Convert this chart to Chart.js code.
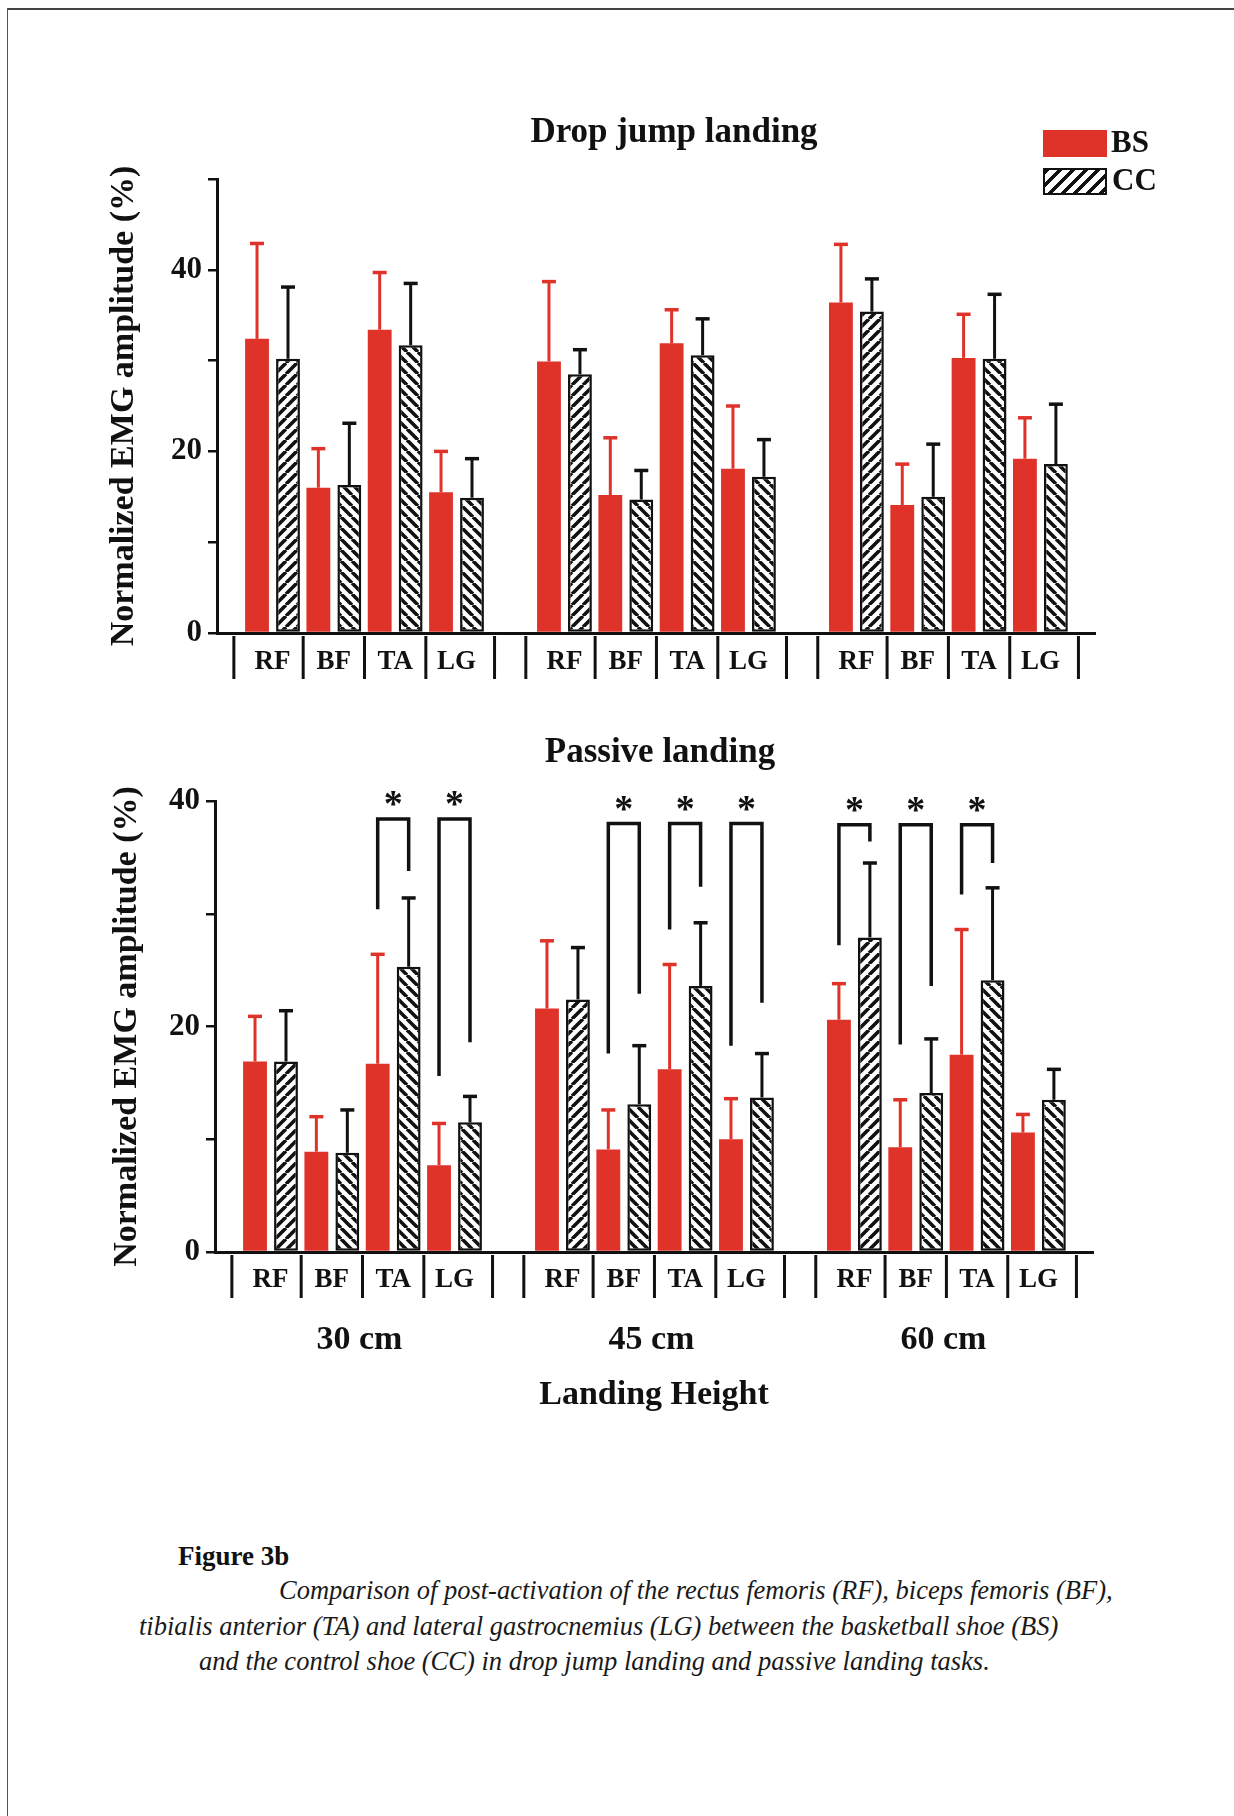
<!DOCTYPE html>
<html lang="en">
<head>
<meta charset="UTF-8">
<title>Figure 3b</title>
<script src="https://cdn.jsdelivr.net/npm/chart.js"></script>
<style>
  body { margin: 0; background: #fff; }
  #page { position: relative; width: 1234px; height: 1816px; overflow: hidden; font-family: "Liberation Serif", "Times New Roman", serif; color: #111; }
  #frame { position: absolute; left: 7px; top: 8px; right: -4px; bottom: -4px; border-top: 2px solid #444; border-left: 1.5px solid #555; }
  canvas { position: absolute; left: 0; }
  .txt { position: absolute; line-height: 1; white-space: nowrap; }
  .bold { font-weight: bold; }
  .mid { transform: translateX(-50%); }
  .sw { position: absolute; width: 64px; height: 27px; box-sizing: border-box; }
  .sw.bs { background: #DF3229; }
  .sw.cc { border: 2.5px solid #111; background: repeating-linear-gradient(135deg, #111 0 3.5px, #fff 3.5px 9px); }
  .cap { font-style: italic; font-size: 26.5px; color: #1a1a1a; }
</style>
</head>
<body>
<div id="page">
  <div id="frame"></div>
  <canvas id="dropChart" width="1234" height="700" style="top:0"></canvas>
  <canvas id="passiveChart" width="1234" height="740" style="top:700px"></canvas>

  <div class="txt bold mid" style="left:674px; top:113px; font-size:35px">Drop jump landing</div>
  <div class="txt bold mid" style="left:660px; top:733px; font-size:35px">Passive landing</div>

  <div class="sw bs" style="left:1043px; top:130px"></div>
  <div class="txt bold" style="left:1111px; top:126px; font-size:31px">BS</div>
  <div class="sw cc" style="left:1043px; top:168px"></div>
  <div class="txt bold" style="left:1112px; top:164px; font-size:31px">CC</div>

  <div class="txt bold" style="left:178px; top:1543px; font-size:27px">Figure 3b</div>
  <div class="txt cap" style="left:279px; top:1577px">Comparison of post-activation of the rectus femoris (RF), biceps femoris (BF),</div>
  <div class="txt cap" style="left:139px; top:1613px">tibialis anterior (TA) and lateral gastrocnemius (LG) between the basketball shoe (BS)</div>
  <div class="txt cap" style="left:199px; top:1648px">and the control shoe (CC) in drop jump landing and passive landing tasks.</div>
</div>

<script>
// categories
const muscles = ['RF', 'BF', 'TA', 'LG'];
const heights = ['30 cm', '45 cm', '60 cm'];
const yLabelsDrop = [0, 20, 40];
const yLabelsPassive = [0, 20, 40];

// drop jump landing: means and SD (order 30cm RF..LG, 45cm RF..LG, 60cm RF..LG)
const dropBS = [32.4, 16.0, 33.4, 15.5, 29.9, 15.2, 31.9, 18.1, 36.4, 14.1, 30.3, 19.2];
const dropBSErr = [10.5, 4.3, 6.3, 4.5, 8.8, 6.3, 3.7, 6.9, 6.4, 4.5, 4.8, 4.5];
const dropCC = [30.2, 16.3, 31.7, 14.9, 28.5, 14.7, 30.6, 17.2, 35.4, 15.0, 30.2, 18.6];
const dropCCErr = [7.9, 6.8, 6.8, 4.3, 2.7, 3.2, 4.0, 4.1, 3.6, 5.8, 7.1, 6.6];

// passive landing
const passBS = [16.9, 8.9, 16.7, 7.7, 21.6, 9.1, 16.2, 10.0, 20.6, 9.3, 17.5, 10.6];
const passBSErr = [4.0, 3.1, 9.7, 3.7, 6.0, 3.5, 9.3, 3.6, 3.2, 4.2, 11.1, 1.6];
const passCC = [16.9, 8.8, 25.3, 11.5, 22.4, 13.1, 23.6, 13.7, 27.9, 14.1, 24.1, 13.5];
const passCCErr = [4.5, 3.8, 6.1, 2.3, 4.6, 5.2, 5.6, 3.9, 6.6, 4.8, 8.2, 2.7];

// significance brackets: [bar index, BS leg bottom, bracket top, CC leg bottom]
const passSig = [
  [2, 30.4, 38.4, 33.8], [3, 15.6, 38.4, 18.6],
  [5, 17.6, 38.0, 22.9], [6, 28.6, 38.0, 32.4], [7, 18.3, 38.0, 22.1],
  [8, 27.2, 37.9, 36.4], [9, 18.4, 37.9, 23.6], [10, 31.7, 37.9, 34.5]
];

const RED = '#DF3229';
const SERIF = '"Liberation Serif", "Times New Roman", serif';
const GROUP_PITCH = 4.76;   // in muscle-slot units
const xPos = i => Math.floor(i / 4) * GROUP_PITCH + (i % 4);
const positions = dropBS.map((_, i) => xPos(i));

// hatch patterns for the CC bars
function hatch(dir) {
  const s = 11;
  const c = document.createElement('canvas');
  c.width = s; c.height = s;
  const g = c.getContext('2d');
  g.fillStyle = '#fff';
  g.fillRect(0, 0, s, s);
  g.strokeStyle = '#111';
  g.lineWidth = 3.6;
  g.beginPath();
  for (let k = -1; k <= 1; k++) {
    if (dir === '/') { g.moveTo(k * s, s); g.lineTo(k * s + s, 0); }
    else { g.moveTo(k * s, 0); g.lineTo(k * s + s, s); }
  }
  g.stroke();
  return g.createPattern(c, 'repeat');
}
const slash = hatch('/');
const back = hatch('\\');

const errorBars = {
  id: 'errorBars',
  afterDatasetsDraw(chart) {
    const { ctx } = chart;
    const y = chart.scales.y;
    chart.data.datasets.forEach((ds, d) => {
      const meta = chart.getDatasetMeta(d);
      ctx.save();
      ctx.strokeStyle = ds.errorColor;
      meta.data.forEach((bar, i) => {
        const top = y.getPixelForValue(ds.data[i].y + ds.errors[i]);
        ctx.lineWidth = 3;
        ctx.beginPath();
        ctx.moveTo(bar.x, bar.y);
        ctx.lineTo(bar.x, top);
        ctx.stroke();
        ctx.lineWidth = 3.5;
        ctx.beginPath();
        ctx.moveTo(bar.x - 7, top);
        ctx.lineTo(bar.x + 7, top);
        ctx.stroke();
      });
      ctx.restore();
    });
  }
};

// vertical dividers between the muscle labels
const separators = {
  id: 'separators',
  afterDraw(chart) {
    const { ctx, chartArea } = chart;
    const x = chart.scales.x;
    ctx.save();
    ctx.strokeStyle = '#111';
    ctx.lineWidth = 3;
    heights.forEach((_, g) => {
      [-0.63, 0.5, 1.5, 2.5, 3.62].forEach(off => {
        const px = x.getPixelForValue(g * GROUP_PITCH + off);
        ctx.beginPath();
        ctx.moveTo(px, chartArea.bottom + 3);
        ctx.lineTo(px, chartArea.bottom + 46);
        ctx.stroke();
      });
    });
    ctx.restore();
  }
};

const brackets = {
  id: 'brackets',
  afterDatasetsDraw(chart) {
    const { ctx } = chart;
    const y = chart.scales.y;
    const bs = chart.getDatasetMeta(0).data;
    const cc = chart.getDatasetMeta(1).data;
    ctx.save();
    ctx.strokeStyle = '#111';
    ctx.fillStyle = '#111';
    ctx.lineWidth = 3.5;
    ctx.lineJoin = 'miter';
    ctx.font = 'bold 38px ' + SERIF;
    ctx.textAlign = 'center';
    ctx.textBaseline = 'alphabetic';
    passSig.forEach(([i, lo, top, hi]) => {
      const xl = bs[i].x, xr = cc[i].x, yt = y.getPixelForValue(top);
      ctx.beginPath();
      ctx.moveTo(xl, y.getPixelForValue(lo));
      ctx.lineTo(xl, yt);
      ctx.lineTo(xr, yt);
      ctx.lineTo(xr, y.getPixelForValue(hi));
      ctx.stroke();
      ctx.fillText('*', (xl + xr) / 2, yt - 3);
    });
    ctx.restore();
  }
};

const groupLabels = {
  id: 'groupLabels',
  afterDraw(chart) {
    const { ctx, chartArea } = chart;
    const x = chart.scales.x;
    ctx.save();
    ctx.fillStyle = '#111';
    ctx.font = 'bold 34px ' + SERIF;
    ctx.textAlign = 'center';
    ctx.textBaseline = 'alphabetic';
    heights.forEach((h, g) => {
      ctx.fillText(h, x.getPixelForValue(g * GROUP_PITCH + 1.45), chartArea.bottom + 97);
    });
    ctx.restore();
  }
};

function makeChart(id, cfg) {
  const a = cfg.area;
  return new Chart(document.getElementById(id), {
    type: 'bar',
    data: {
      datasets: [
        {
          label: 'BS',
          data: cfg.bs.map((v, i) => ({ x: positions[i], y: v })),
          errors: cfg.bsErr,
          errorColor: RED,
          backgroundColor: RED,
          borderWidth: 0,
          categoryPercentage: 1.01,
          barPercentage: 0.77
        },
        {
          label: 'CC',
          data: cfg.cc.map((v, i) => ({ x: positions[i], y: v })),
          errors: cfg.ccErr,
          errorColor: '#111',
          backgroundColor: cfg.cc.map((_, i) => i % 4 === 0 ? slash : back),
          borderColor: '#111',
          borderWidth: 2.5,
          borderSkipped: false,
          categoryPercentage: 1.01,
          barPercentage: 0.77
        }
      ]
    },
    options: {
      responsive: false,
      animation: false,
      events: [],
      layout: { padding: { top: a.top, right: 1234 - a.right, left: 0, bottom: 0 } },
      plugins: { legend: { display: false }, tooltip: { enabled: false } },
      scales: {
        x: {
          type: 'linear',
          offset: false,
          min: -0.905,
          max: 2 * GROUP_PITCH + 3.89,
          afterBuildTicks: s => { s.ticks = positions.map(v => ({ value: v })); },
          afterFit: s => { s.height = cfg.canvasH - a.bottom; },
          grid: { display: false, drawTicks: false, offset: false },
          border: { display: true, color: '#111', width: 3 },
          ticks: {
            autoSkip: false, maxRotation: 0, padding: cfg.xPad, color: '#111',
            font: { family: SERIF, weight: 'bold', size: 27 },
            callback: (v, i) => muscles[i % 4]
          },
          title: cfg.xTitle
        },
        y: {
          min: 0,
          max: cfg.yMax,
          afterFit: s => { s.width = a.left; },
          grid: { drawOnChartArea: false, drawTicks: true, tickLength: 9, color: '#111', lineWidth: 2.5 },
          border: { color: '#111', width: 3 },
          ticks: {
            stepSize: 10, padding: 6, color: '#111',
            font: { family: SERIF, weight: 'bold', size: 31 },
            callback: v => cfg.yLabels.includes(v) ? String(v) : ''
          },
          title: {
            display: true,
            text: 'Normalized EMG amplitude (%)',
            color: '#111',
            font: { family: SERIF, weight: 'bold', size: 34 },
            padding: { top: cfg.yTitlePad, bottom: 0 }
          }
        }
      }
    },
    plugins: cfg.plugins
  });
}

makeChart('dropChart', {
  bs: dropBS, bsErr: dropBSErr, cc: dropCC, ccErr: dropCCErr,
  yMax: 50, yLabels: yLabelsDrop,
  area: { top: 179, left: 217, right: 1095, bottom: 633 },
  canvasH: 700, xPad: 13, yTitlePad: 104,
  xTitle: { display: false },
  plugins: [errorBars, separators]
});

makeChart('passiveChart', {
  bs: passBS, bsErr: passBSErr, cc: passCC, ccErr: passCCErr,
  yMax: 40, yLabels: yLabelsPassive,
  area: { top: 101, left: 215, right: 1093, bottom: 552 },
  canvasH: 740, xPad: 12, yTitlePad: 107,
  xTitle: {
    display: true, text: 'Landing Height', color: '#111',
    font: { family: SERIF, weight: 'bold', size: 34 },
    padding: { top: 0, bottom: 24 }
  },
  plugins: [errorBars, brackets, separators, groupLabels]
});
</script>
</body>
</html>
